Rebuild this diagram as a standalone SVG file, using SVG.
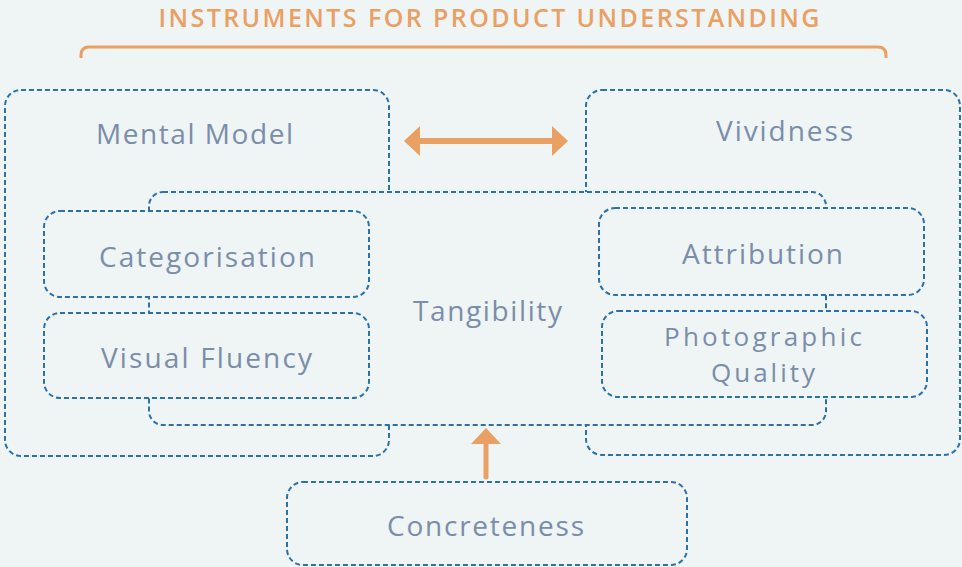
<svg xmlns="http://www.w3.org/2000/svg" width="962" height="567" viewBox="0 0 962 567">
<style>
.box{fill:#eff4f5;stroke:#2b72ab;stroke-width:2;stroke-dasharray:5 3}
.lbl{font-family:"Open Sans","Liberation Sans",sans-serif;font-size:28px;fill:#7a8da9;text-anchor:middle;font-variant-ligatures:none}
.sm{font-size:26px}
.title{font-family:"Open Sans","Liberation Sans",sans-serif;font-size:25px;font-weight:600;fill:#e9a062;text-anchor:middle}
.arrow{stroke:#e9a062;fill:none}
</style>
<defs>
<marker id="head" markerUnits="userSpaceOnUse" viewBox="0 0 16 30" markerWidth="16" markerHeight="30" refX="0" refY="15" orient="auto-start-reverse">
<path d="M0,0 L16,15 L0,30 Z" fill="#e9a062"/>
</marker>
</defs>
<rect width="962" height="567" fill="#eff4f5"/>
<g id="title">
<text class="title" x="489" y="27" textLength="661" lengthAdjust="spacing">INSTRUMENTS FOR PRODUCT UNDERSTANDING</text>
<path d="M81,58 V55 Q81,47 89,47 H878 Q886,47 886,55 V58" fill="none" stroke="#e9a062" stroke-width="3"/>
</g>
<g id="mental-model">
<rect class="box" x="5" y="90" width="384" height="366" rx="16"/>
<text class="lbl" x="194.5" y="144" textLength="197" lengthAdjust="spacing">Mental Model</text>
</g>
<g id="vividness">
<rect class="box" x="586" y="90" width="374" height="365" rx="16"/>
<text class="lbl" x="784.5" y="141" textLength="137" lengthAdjust="spacing">Vividness</text>
</g>
<g id="tangibility">
<rect class="box" x="149" y="192" width="677" height="233" rx="14"/>
<text class="lbl" x="487.5" y="321" textLength="149" lengthAdjust="spacing">Tangibility</text>
</g>
<g id="categorisation">
<rect class="box" x="44" y="211" width="325" height="86" rx="16"/>
<text class="lbl" x="207" y="267" textLength="216" lengthAdjust="spacing">Categorisation</text>
</g>
<g id="visual-fluency">
<rect class="box" x="44" y="313" width="325" height="85" rx="16"/>
<text class="lbl" x="206.5" y="368" textLength="211" lengthAdjust="spacing">Visual Fluency</text>
</g>
<g id="attribution">
<rect class="box" x="599" y="208" width="325" height="87" rx="16"/>
<text class="lbl" x="762.5" y="264" textLength="161" lengthAdjust="spacing">Attribution</text>
</g>
<g id="photographic-quality">
<rect class="box" x="602" y="311" width="325" height="86" rx="16"/>
<text class="lbl sm" x="763" y="346" textLength="198" lengthAdjust="spacing">Photographic</text>
<text class="lbl sm" x="763" y="382" textLength="104" lengthAdjust="spacing">Quality</text>
</g>
<g id="concreteness">
<rect class="box" x="287" y="482" width="400" height="83" rx="16"/>
<text class="lbl" x="485.5" y="536" textLength="197" lengthAdjust="spacing">Concreteness</text>
</g>
<g id="connectors">
<line class="arrow" x1="420" y1="141" x2="552" y2="141" stroke-width="6" marker-start="url(#head)" marker-end="url(#head)"/>
<line class="arrow" x1="486" y1="477" x2="486" y2="444" stroke-width="5" stroke-linecap="round" marker-end="url(#head)"/>
</g>
</svg>
